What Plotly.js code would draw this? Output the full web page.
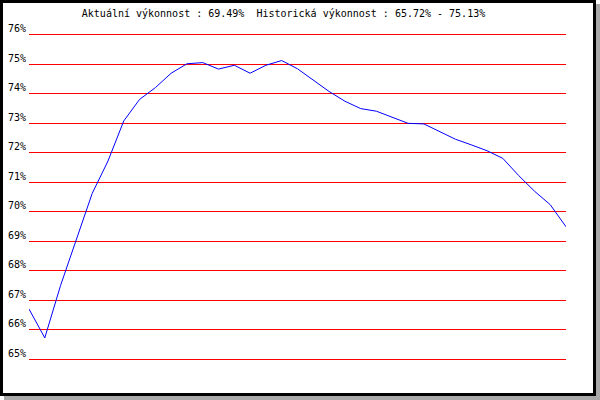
<!DOCTYPE html>
<html>
<head>
<meta charset="utf-8">
<script src="https://cdn.plot.ly/plotly-3.0.1.min.js"></script>
<style>
  html, body { margin: 0; padding: 0; background: #ffffff; }
  #frame {
    position: absolute; left: 0; top: 0;
    width: 590px; height: 390px;
    border: 3px solid #000000;
    background: #ffffff;
    box-shadow: 4px 4px 0 #a9a9a9;
  }
  #chart { position: absolute; left: 0; top: 0; width: 600px; height: 400px; }
</style>
</head>
<body>
<div id="frame"></div>
<div id="chart"></div>
<script>
// Performance values (%)
const performance = [
  66.70, 65.72, 67.50, 69.07, 70.62, 71.72, 73.08, 73.81, 74.21, 74.70,
  75.02, 75.06, 74.84, 74.97, 74.70, 74.97, 75.13, 74.85, 74.45, 74.08,
  73.75, 73.50, 73.41, 73.20, 73.00, 72.98, 72.72, 72.46, 72.27, 72.07,
  71.81, 71.23, 70.70, 70.24, 69.49
];
const yTickValues = [65, 66, 67, 68, 69, 70, 71, 72, 73, 74, 75, 76];
const titleText = "Aktuální výkonnost : 69.49%  Historická výkonnost : 65.72% - 75.13%";

const trace = {
  y: performance,
  type: "scatter",
  mode: "lines",
  line: { color: "#0000ff", width: 1 },
  hoverinfo: "skip"
};

const layout = {
  width: 600,
  height: 400,
  paper_bgcolor: "rgba(0,0,0,0)",
  plot_bgcolor: "rgba(0,0,0,0)",
  margin: { l: 29, r: 34, t: 29.1, b: 34.8 },
  showlegend: false,
  font: { family: "DejaVu Sans Mono", size: 10, color: "#000000" },
  title: {
    text: titleText,
    font: { family: "DejaVu Sans Mono", size: 10, color: "#000000" },
    xref: "container", yref: "container",
    x: 0.4725, xanchor: "center",
    y: 0.9675, yanchor: "middle"
  },
  xaxis: {
    range: [0, performance.length - 1],
    visible: false,
    showgrid: false,
    zeroline: false
  },
  yaxis: {
    range: [64.8, 76.2],
    tickvals: yTickValues,
    ticktext: yTickValues.map(v => v + "%"),
    showgrid: true,
    gridcolor: "#ff0000",
    gridwidth: 1,
    zeroline: false,
    showline: false,
    ticks: "",
    ticklabelshift: -6,
    ticklabelstandoff: 2,
    tickfont: { family: "DejaVu Sans Mono", size: 10, color: "#000000" },
    fixedrange: true
  }
};

Plotly.newPlot("chart", [trace], layout, { staticPlot: true, displayModeBar: false });
</script>
</body>
</html>
